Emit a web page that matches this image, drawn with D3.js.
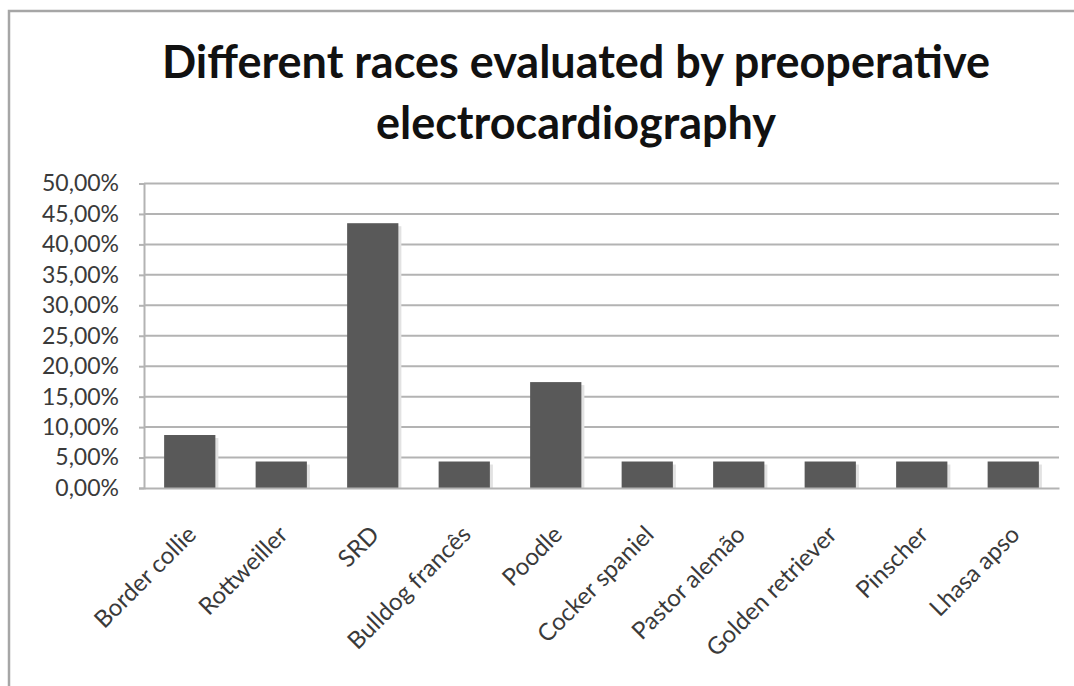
<!DOCTYPE html>
<html>
<head>
<meta charset="utf-8">
<script src="https://cdn.jsdelivr.net/npm/d3@7"></script>
<style>
  html, body { margin: 0; padding: 0; background: #fff; }
  svg { display: block; }
</style>
</head>
<body>
<svg id="chart" width="1074" height="686"></svg>
<script>
// Breeds and their share of the evaluated dogs
const breeds = ["Border collie", "Rottweiller", "SRD", "Bulldog francês", "Poodle",
                "Cocker spaniel", "Pastor alemão", "Golden retriever", "Pinscher", "Lhasa apso"];
const shares = [8.70, 4.35, 43.48, 4.35, 17.39, 4.35, 4.35, 4.35, 4.35, 4.35];
const yTicks = [0, 5, 10, 15, 20, 25, 30, 35, 40, 45, 50];
const titleLines = ["Different races evaluated by preoperative", "electrocardiography"];

const svg = d3.select("#chart");
const font = "Lato, 'Open Sans', sans-serif";

// Outer chart frame
svg.append("rect")
  .attr("x", 9).attr("y", 11)
  .attr("width", 1100).attr("height", 700)
  .attr("fill", "#fff")
  .attr("stroke", "#a6a6a6").attr("stroke-width", 2.5);

// Title
svg.append("g").selectAll("text")
  .data(titleLines)
  .join("text")
  .attr("x", 576)
  .attr("y", (d, i) => 78 + i * 61)
  .attr("text-anchor", "middle")
  .attr("font-family", font)
  .attr("font-weight", "bold")
  .attr("font-size", 45)
  .attr("fill", "#111")
  .text(d => d);

const plot = { left: 144, right: 1059, top: 183.5, bottom: 488 };

const x = d3.scaleBand()
  .domain(breeds)
  .range([plot.left, plot.right])
  .paddingInner(0.44)
  .paddingOuter(0.22);

const y = d3.scaleLinear()
  .domain([0, 50])
  .range([plot.bottom, plot.top]);

// Horizontal gridlines
svg.append("g")
  .selectAll("line")
  .data(yTicks.filter(t => t > 0))
  .join("line")
  .attr("x1", plot.left).attr("x2", plot.right)
  .attr("y1", d => y(d)).attr("y2", d => y(d))
  .attr("stroke", "#b3b3b3").attr("stroke-width", 2);

// Y axis with percentage labels
const fmt = d => d.toFixed(2).replace(".", ",") + "%";
const yAxis = svg.append("g")
  .attr("transform", `translate(${plot.left},0)`)
  .call(d3.axisLeft(y).tickValues(yTicks).tickFormat(fmt).tickSize(5).tickPadding(20));
yAxis.select(".domain").attr("stroke", "#b3b3b3").attr("stroke-width", 2);
yAxis.selectAll(".tick line").attr("stroke", "#b3b3b3").attr("stroke-width", 2);
yAxis.selectAll(".tick text")
  .attr("font-family", font)
  .attr("font-size", 23)
  .attr("fill", "#3a3a3a");

// Bar shadows
svg.append("g")
  .selectAll("rect")
  .data(breeds)
  .join("rect")
  .attr("x", d => x(d) + 3)
  .attr("y", (d, i) => y(shares[i]) + 3)
  .attr("width", x.bandwidth())
  .attr("height", (d, i) => plot.bottom - y(shares[i]) - 3)
  .attr("fill", "#e2e2e2");

// Bars
svg.append("g")
  .selectAll("rect")
  .data(breeds)
  .join("rect")
  .attr("x", d => x(d))
  .attr("y", (d, i) => y(shares[i]))
  .attr("width", x.bandwidth())
  .attr("height", (d, i) => plot.bottom - y(shares[i]))
  .attr("fill", "#595959");

// X axis
const xAxis = svg.append("g")
  .attr("transform", `translate(0,${plot.bottom})`)
  .call(d3.axisBottom(x).tickSize(0).tickFormat(""));
xAxis.select(".domain").attr("stroke", "#b3b3b3").attr("stroke-width", 2);

// Rotated category labels
svg.append("g")
  .selectAll("text")
  .data(breeds)
  .join("text")
  .attr("transform", d => `translate(${x(d) + x.bandwidth() / 2 + 8},${plot.bottom + 48}) rotate(-45)`)
  .attr("text-anchor", "end")
  .attr("font-family", font)
  .attr("font-size", 24)
  .attr("fill", "#3a3a3a")
  .text(d => d);
</script>
</body>
</html>
